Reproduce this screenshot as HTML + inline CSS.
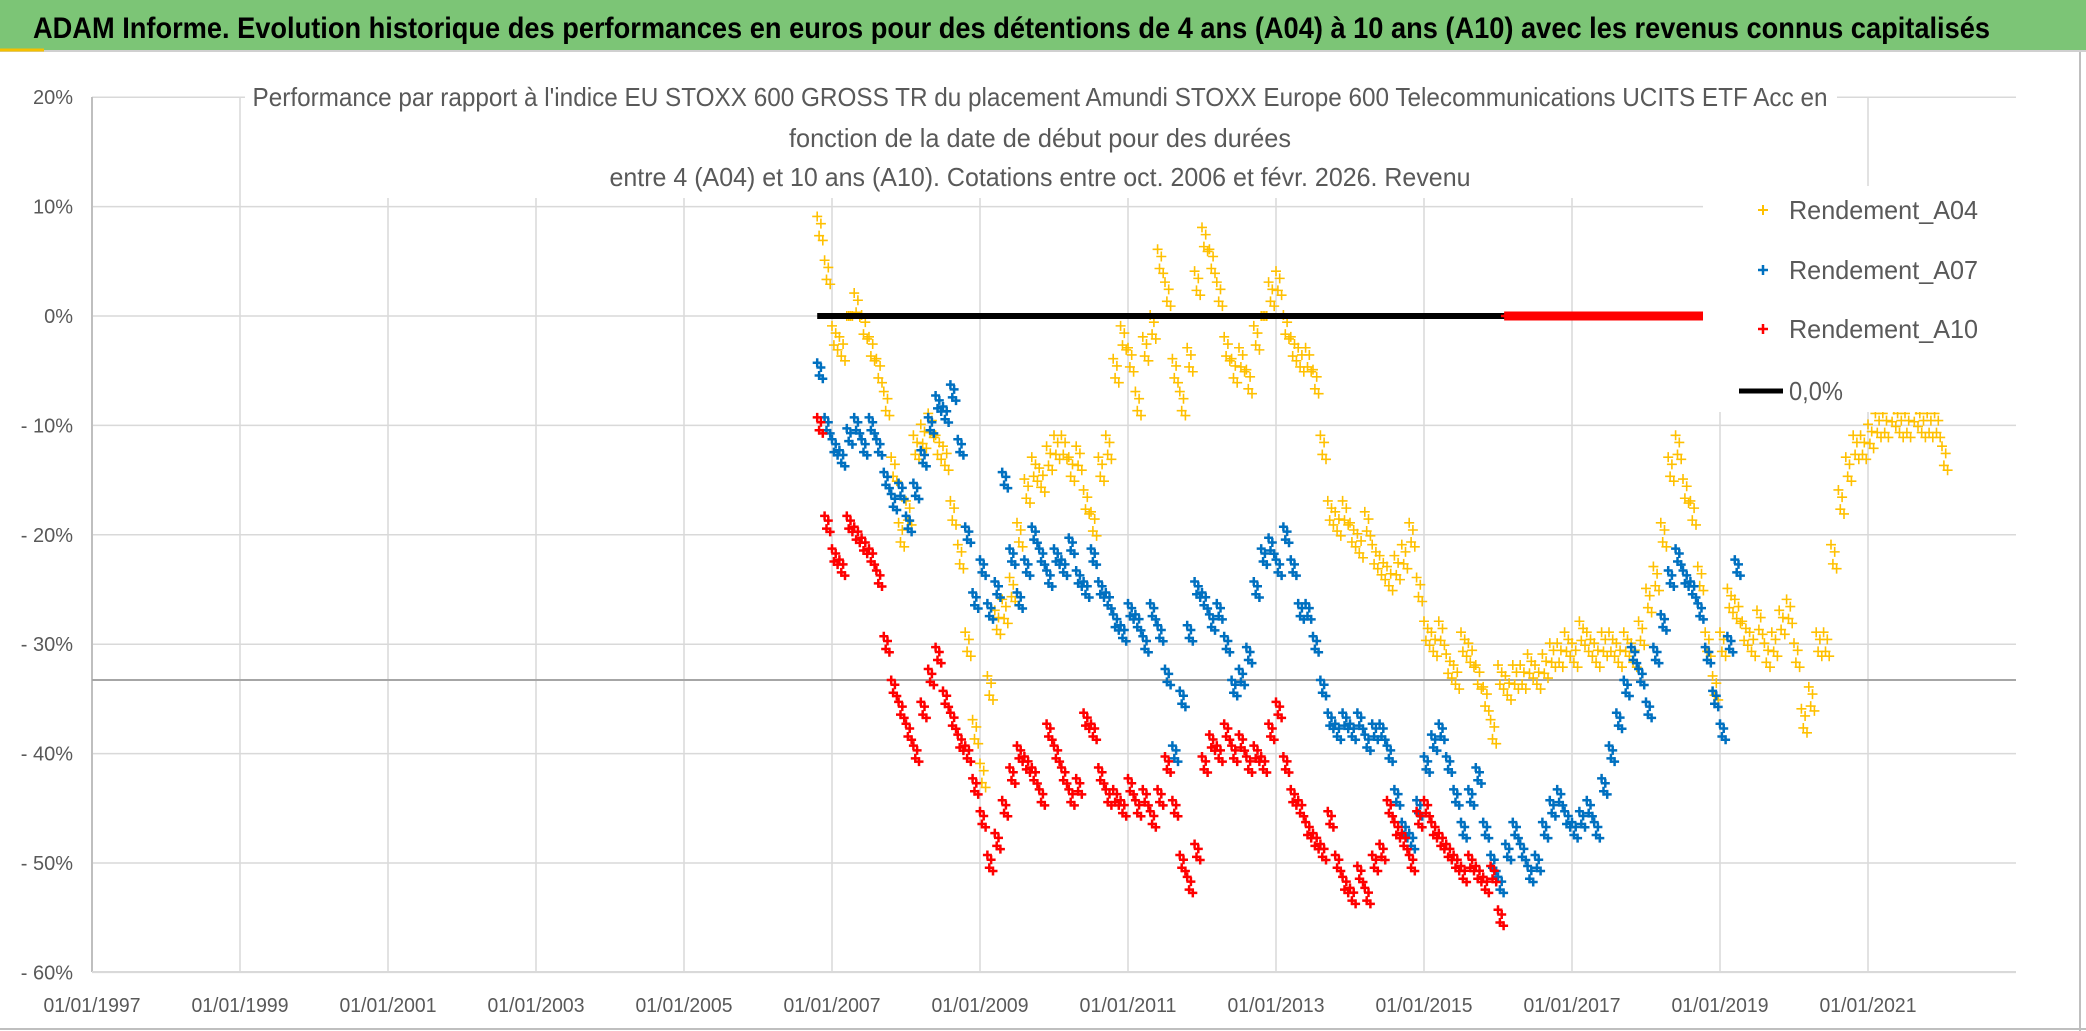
<!DOCTYPE html>
<html><head><meta charset="utf-8"><style>
html,body{margin:0;padding:0;background:#fff;}
svg{display:block;}
text{font-family:"Liberation Sans Narrow","Liberation Sans",sans-serif;}
</style></head><body>
<svg id="chart" width="2086" height="1031" viewBox="0 0 2086 1031">
<rect x="0" y="0" width="2086" height="1031" fill="#fff"/>
<rect x="0" y="0" width="2086" height="50" fill="#7cc576"/>
<line x1="0" y1="51" x2="2086" y2="51" stroke="#d0d0d0" stroke-width="2"/>
<line x1="0" y1="50" x2="44" y2="50" stroke="#f5c000" stroke-width="3"/>
<line x1="2080" y1="52" x2="2080" y2="1031" stroke="#bfbfbf" stroke-width="2"/>
<line x1="0" y1="1029" x2="2086" y2="1029" stroke="#bfbfbf" stroke-width="2"/>
<text x="33" y="38" font-size="30" font-weight="bold" fill="#000" textLength="1957" lengthAdjust="spacingAndGlyphs">ADAM Informe. Evolution historique des performances en euros pour des détentions de 4 ans (A04) à 10 ans (A10) avec les revenus connus capitalisés</text>
<g id="grid"></g>
<g id="marks"></g>
<rect x="245" y="78" width="1592" height="120" fill="#fff"/>
<text x="1040" y="106" text-anchor="middle" font-size="26" fill="#595959" textLength="1575" lengthAdjust="spacingAndGlyphs">Performance par rapport à l'indice EU STOXX 600 GROSS TR  du placement Amundi STOXX Europe 600 Telecommunications UCITS ETF Acc en</text>
<text x="1040" y="147" text-anchor="middle" font-size="26" fill="#595959" textLength="502" lengthAdjust="spacingAndGlyphs">fonction de la date de début pour des durées</text>
<text x="1040" y="186" text-anchor="middle" font-size="26" fill="#595959" textLength="861" lengthAdjust="spacingAndGlyphs">entre 4 (A04) et 10 ans (A10). Cotations entre oct. 2006 et févr. 2026. Revenu</text>
<g id="legend">
<rect x="1703" y="186" width="313" height="226" fill="#fff"/>
<g>
<path d="M1758 210h10M1763 205v10" stroke="#FFC000" stroke-width="2"/>
<text x="1789" y="219" font-size="26" fill="#595959" textLength="189" lengthAdjust="spacingAndGlyphs">Rendement_A04</text></g>
<g>
<path d="M1758 270h10M1763 265v10" stroke="#0070C0" stroke-width="2.5"/>
<text x="1789" y="279" font-size="26" fill="#595959" textLength="189" lengthAdjust="spacingAndGlyphs">Rendement_A07</text></g>
<g>
<path d="M1758 329h10M1763 324v10" stroke="#FF0000" stroke-width="2.5"/>
<text x="1789" y="338" font-size="26" fill="#595959" textLength="189" lengthAdjust="spacingAndGlyphs">Rendement_A10</text></g>
<g>
<line x1="1739" y1="391" x2="1783" y2="391" stroke="#000" stroke-width="5"/>
<text x="1789" y="400" font-size="26" fill="#595959" textLength="54" lengthAdjust="spacingAndGlyphs">0,0%</text></g>
</g>
</svg>
<script>
const yTicks = [20,10,0,-10,-20,-30,-40,-50,-60];
const yTickLabels = ["20%","10%","0%","- 10%","- 20%","- 30%","- 40%","- 50%","- 60%"];
const xTicks = [1997,1999,2001,2003,2005,2007,2009,2011,2013,2015,2017,2019,2021];
const xTickLabels = ["01/01/1997","01/01/1999","01/01/2001","01/01/2003","01/01/2005","01/01/2007","01/01/2009","01/01/2011","01/01/2013","01/01/2015","01/01/2017","01/01/2019","01/01/2021"];
const seriesStart = 2006.8;
const seriesStep = 0.1;
const a04Values = [8,4,-2,-3,0,1,-1,-3,-5,-8,-14,-20,-18,-12,-11,-10,-12,-13,-18,-22,-30,-38,-42,-34,-28,-27,-25,-20,-16,-14,-15,-13,-12,-12,-14,-13,-17,-19,-14,-12,-5,-2,-4,-8,-3,-1,5,2,-5,-8,-4,3,7,5,2,-3,-5,-4,-6,-2,0,2,3,-1,-3,-4,-4,-6,-12,-18,-19,-18,-20,-21,-19,-22,-23,-24,-23,-22,-20,-25,-29,-30,-29,-32,-33,-30,-31,-33,-35,-38,-33,-34,-33,-33,-32,-33,-32,-31,-31,-30,-31,-29,-30,-31,-30,-30,-31,-30,-31,-29,-26,-24,-20,-14,-12,-16,-18,-24,-30,-34,-30,-26,-27,-29,-30,-28,-31,-30,-28,-27,-31,-37,-35,-30,-30,-22,-17,-14,-12,-12,-11,-10,-10,-9,-10,-10,-9,-10,-10,-10,-13];
const a07Values = [-5,-10,-12,-13,-11,-10,-12,-10,-12,-15,-17,-16,-19,-16,-13,-10,-8,-9,-7,-12,-20,-26,-23,-27,-25,-15,-22,-26,-23,-20,-22,-24,-22,-23,-21,-24,-25,-22,-25,-26,-28,-29,-27,-28,-30,-27,-29,-33,-40,-35,-29,-25,-26,-28,-27,-30,-34,-33,-31,-25,-22,-21,-23,-20,-23,-27,-27,-30,-34,-37,-38,-37,-38,-37,-39,-38,-38,-40,-44,-47,-48,-45,-41,-39,-38,-41,-44,-47,-44,-42,-47,-50,-52,-49,-47,-49,-51,-50,-47,-45,-44,-46,-47,-46,-45,-47,-43,-40,-37,-34,-31,-33,-36,-31,-28,-24,-22,-24,-25,-27,-31,-35,-38,-30,-23];
const a10Values = [-10,-19,-22,-23,-19,-20,-21,-22,-24,-30,-34,-36,-38,-40,-36,-33,-31,-35,-37,-39,-40,-43,-46,-50,-48,-45,-42,-40,-41,-42,-44,-38,-40,-42,-44,-43,-37,-38,-42,-44,-44,-45,-43,-45,-44,-46,-44,-41,-45,-50,-52,-49,-41,-39,-40,-38,-40,-39,-41,-40,-41,-38,-36,-41,-44,-45,-47,-48,-49,-46,-50,-52,-53,-51,-53,-50,-49,-45,-47,-48,-50,-46,-45,-47,-48,-49,-50,-51,-50,-51,-52,-51,-55,0,0,0,0,0,0,0,0,0,0,0,0,0,0,0,0,0,0,0,0,0,0,0,0,0,0,0];
const a10LateYears = [2022.85];
const a10LateValues = [0];
const zeroLineYears = [2006.8, 2016.1];
const zeroLineValues = [0, 0];

const NS = "http://www.w3.org/2000/svg";
const X0 = 92, X1 = 2016, Y0 = 97, Y1 = 972;
function xScale(year){ return X0 + (year - 1997) * 74; }
function yScale(v){ return 316 - v * 10.94; }
function mk(tag, attrs, parent){
  const el = document.createElementNS(NS, tag);
  for (const k in attrs) el.setAttribute(k, attrs[k]);
  parent.appendChild(el);
  return el;
}
const grid = document.getElementById('grid');
const marks = document.getElementById('marks');

yTicks.forEach((t, i) => {
  const y = yScale(t);
  const gl = mk('line', {x1: X0, x2: X1, y1: y, y2: y, stroke: '#d9d9d9', 'stroke-width': 1.5}, grid);
  
  
  const lb = mk('text', {x: 73, y: y + 7, 'text-anchor': 'end', 'font-size': 20, fill: '#595959'}, grid);
  lb.textContent = yTickLabels[i];
  
  
});
xTicks.forEach((t, i) => {
  const x = xScale(t);
  const gl = mk('line', {x1: x, x2: x, y1: Y0, y2: Y1, stroke: '#d9d9d9', 'stroke-width': 1.5}, grid);
  
  
  const lb = mk('text', {x: x, y: 1012, 'text-anchor': 'middle', 'font-size': 20, fill: '#595959', textLength: 97, lengthAdjust: 'spacingAndGlyphs'}, grid);
  lb.textContent = xTickLabels[i];
  
  
});
const ax = mk('line', {x1: X0, x2: X0, y1: Y0, y2: Y1, stroke: '#bfbfbf', 'stroke-width': 2}, grid);


const bx = mk('line', {x1: X0, x2: X1, y1: Y1, y2: Y1, stroke: '#d9d9d9', 'stroke-width': 2}, grid);


const ref = mk('line', {x1: X0, x2: X1, y1: 680, y2: 680, stroke: '#a6a6a6', 'stroke-width': 2}, grid);



function plus(x, y, color, sw, s, name){
  const p = mk('path', {d: `M${x - s} ${y}h${2 * s}M${x} ${y - s}v${2 * s}`, stroke: color, 'stroke-width': sw, fill: 'none'}, marks);
  
  
}
// marker cluster offsets (styling only: simulate dense daily markers)
const clusterDx = [0, 1.9, 3.7, 5.6];
const clusterDy = [-1, 0.6, -0.4, 1];
function drawSeries(values, color, sw, s, spread, name){
  values.forEach((v, i) => {
    if (v === null) return;
    const yr = seriesStart + i * seriesStep;
    const x = xScale(yr), y = yScale(v);
    const sp = v === 0 ? 0 : spread;
    clusterDx.forEach((dx, k) => plus(x + dx, y + clusterDy[k] * sp, color, sw, s, name));
  });
}
drawSeries(a04Values, '#FFC000', 1.6, 5, 12, 'a04-point');
const zl = mk('line', {x1: xScale(zeroLineYears[0]), x2: xScale(zeroLineYears[1]), y1: yScale(zeroLineValues[0]), y2: yScale(zeroLineValues[1]), stroke: '#000', 'stroke-width': 6}, marks);


drawSeries(a07Values, '#0070C0', 2.5, 4.5, 8, 'a07-point');
drawSeries(a10Values, '#FF0000', 2.5, 4.5, 8, 'a10-point');
a10LateYears.forEach((yr, i) => plus(xScale(yr), yScale(a10LateValues[i]), '#FF0000', 2.5, 4.5, 'a10-point'));
</script>
</body></html>
